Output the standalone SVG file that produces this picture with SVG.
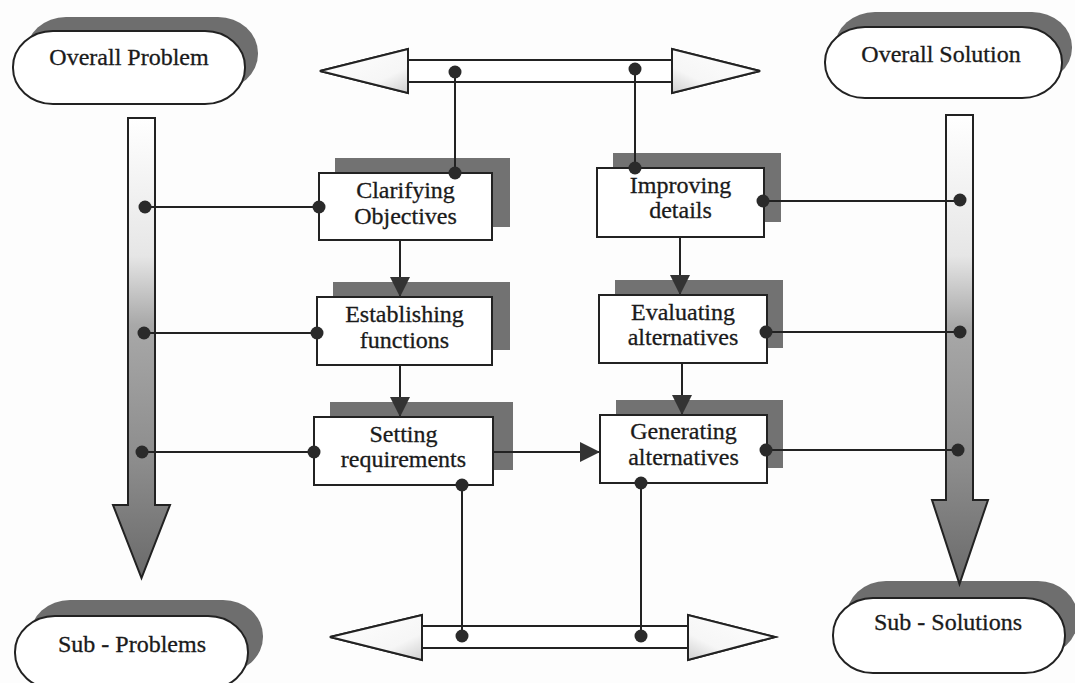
<svg xmlns="http://www.w3.org/2000/svg" width="1075" height="683" viewBox="0 0 1075 683">
<style>
  .txt{font-family:"Liberation Serif","Times New Roman",serif;font-size:24px;fill:#1a1a1a;stroke:#1a1a1a;stroke-width:0.3;text-anchor:middle}
  .pill{fill:#fff;stroke:#222;stroke-width:2}
  .pshadow{fill:#6e6e6e}
  .box{fill:#fff;stroke:#222;stroke-width:2}
  .bshadow{fill:#727272}
  .ln{stroke:#222;stroke-width:2;fill:none}
  .dot{fill:#2a2a2a}
  .outline{stroke:#222;stroke-width:2;fill:#fff}
</style>
<defs>
  <marker id="ah" viewBox="0 0 20 20" refX="20" refY="10" markerWidth="20" markerHeight="20" orient="auto" markerUnits="userSpaceOnUse">
    <path d="M0,0 L20,10 L0,20 z" fill="#333"/>
  </marker>
  <linearGradient id="vgrad" x1="0" y1="0" x2="0" y2="1">
    <stop offset="0" stop-color="#ffffff"/>
    <stop offset="0.3" stop-color="#e6e6e6"/>
    <stop offset="0.45" stop-color="#a8a8a8"/>
    <stop offset="0.75" stop-color="#8c8c8c"/>
    <stop offset="1" stop-color="#6a6a6a"/>
  </linearGradient>
  <linearGradient id="hgradL" x1="0" y1="0" x2="1" y2="1">
    <stop offset="0" stop-color="#ffffff"/>
    <stop offset="0.7" stop-color="#f6f6f6"/>
    <stop offset="1" stop-color="#cfcfcf"/>
  </linearGradient>
  <linearGradient id="hgradR" x1="1" y1="0" x2="0" y2="1">
    <stop offset="0" stop-color="#ffffff"/>
    <stop offset="0.7" stop-color="#f6f6f6"/>
    <stop offset="1" stop-color="#cfcfcf"/>
  </linearGradient>
</defs>
<rect x="0" y="0" width="1075" height="683" fill="#fdfdfd"/>

<g id="overall-problem">
  <rect class="pshadow" x="26" y="17" width="232" height="73" rx="40" ry="36"/>
  <rect class="pill" x="13" y="31" width="232" height="73" rx="40" ry="36"/>
  <text class="txt" x="129" y="65">Overall Problem</text>
</g>
<g id="overall-solution">
  <rect class="pshadow" x="835" y="12" width="237" height="71" rx="40" ry="35"/>
  <rect class="pill" x="825" y="27" width="237" height="71" rx="40" ry="35"/>
  <text class="txt" x="941" y="62">Overall Solution</text>
</g>
<g id="sub-problems">
  <rect class="pshadow" x="30" y="600" width="233" height="73" rx="40" ry="36"/>
  <rect class="pill" x="15" y="616" width="233" height="73" rx="40" ry="36"/>
  <text class="txt" x="132" y="652">Sub - Problems</text>
</g>
<g id="sub-solutions">
  <rect class="pshadow" x="846" y="581" width="232" height="75" rx="40" ry="37"/>
  <rect class="pill" x="833" y="598" width="232" height="75" rx="40" ry="37"/>
  <text class="txt" x="948" y="630">Sub - Solutions</text>
</g>

<g id="problem-arrow">
  <polygon points="128,118 155,118 155,505 170,505 141.5,578 113,505 128,505" fill="url(#vgrad)" stroke="#222" stroke-width="2"/>
</g>
<g id="solution-arrow">
  <polygon points="946,115 973,115 973,500 988,500 959.5,584 932,500 946,500" fill="url(#vgrad)" stroke="#222" stroke-width="2"/>
</g>

<g id="top-double-arrow">
  <polygon class="outline" points="320,71 408,49 408,60 672,60 672,49 760,71 672,93 672,82 408,82 408,93"/>
  <polygon points="320,71 408,49 408,93" fill="url(#hgradL)" stroke="#222" stroke-width="2"/>
  <polygon points="760,71 672,49 672,93" fill="url(#hgradR)" stroke="#222" stroke-width="2"/>
  <rect x="409" y="61" width="262" height="20" fill="#fff"/>
</g>
<g id="bottom-double-arrow">
  <polygon class="outline" points="330,637 422,615 422,626 688,626 688,615 775,637 688,660 688,648 422,648 422,660"/>
  <polygon points="330,637 422,615 422,660" fill="url(#hgradL)" stroke="#222" stroke-width="2"/>
  <polygon points="775,637 688,615 688,660" fill="url(#hgradR)" stroke="#222" stroke-width="2"/>
  <rect x="423" y="627" width="264" height="20" fill="#fff"/>
</g>

<g id="clarifying-objectives">
  <rect class="bshadow" x="335" y="158" width="175" height="69"/>
  <rect class="box" x="319" y="173" width="173" height="67"/>
  <text class="txt" x="405.5" y="198">Clarifying</text>
  <text class="txt" x="405.5" y="224">Objectives</text>
</g>
<g id="establishing-functions">
  <rect class="bshadow" x="333" y="282" width="177" height="68"/>
  <rect class="box" x="317" y="297" width="175" height="68"/>
  <text class="txt" x="404.5" y="322">Establishing</text>
  <text class="txt" x="404.5" y="348">functions</text>
</g>
<g id="setting-requirements">
  <rect class="bshadow" x="330" y="402" width="183" height="68"/>
  <rect class="box" x="314" y="417" width="179" height="68"/>
  <text class="txt" x="403.5" y="442">Setting</text>
  <text class="txt" x="403.5" y="467">requirements</text>
</g>
<g id="improving-details">
  <rect class="bshadow" x="613" y="153" width="168" height="69"/>
  <rect class="box" x="597" y="168" width="167" height="69"/>
  <text class="txt" x="680.5" y="193">Improving</text>
  <text class="txt" x="680.5" y="218">details</text>
</g>
<g id="evaluating-alternatives">
  <rect class="bshadow" x="615" y="280" width="168" height="68"/>
  <rect class="box" x="599" y="295" width="168" height="68"/>
  <text class="txt" x="683" y="320">Evaluating</text>
  <text class="txt" x="683" y="345">alternatives</text>
</g>
<g id="generating-alternatives">
  <rect class="bshadow" x="616" y="400" width="167" height="68"/>
  <rect class="box" x="600" y="415" width="167" height="68"/>
  <text class="txt" x="683.5" y="439">Generating</text>
  <text class="txt" x="683.5" y="465">alternatives</text>
</g>

<g id="connectors">
  <line class="ln" x1="455" y1="71" x2="455" y2="173"/>
  <line class="ln" x1="635" y1="69" x2="635" y2="168"/>
  <line class="ln" x1="462" y1="485" x2="462" y2="637"/>
  <line class="ln" x1="641" y1="483" x2="641" y2="637"/>
  <line class="ln" x1="400" y1="240" x2="400" y2="297" marker-end="url(#ah)"/>
  <line class="ln" x1="400" y1="365" x2="400" y2="417" marker-end="url(#ah)"/>
  <line class="ln" x1="680" y1="237" x2="680" y2="295" marker-end="url(#ah)"/>
  <line class="ln" x1="682" y1="363" x2="682" y2="415" marker-end="url(#ah)"/>
  <line class="ln" x1="493" y1="452" x2="600" y2="452" marker-end="url(#ah)"/>
  <line class="ln" x1="145" y1="207" x2="319" y2="207"/>
  <line class="ln" x1="145" y1="333" x2="317" y2="333"/>
  <line class="ln" x1="145" y1="452" x2="314" y2="452"/>
  <line class="ln" x1="764" y1="201" x2="960" y2="201"/>
  <line class="ln" x1="767" y1="332" x2="960" y2="332"/>
  <line class="ln" x1="767" y1="450" x2="960" y2="450"/>
  <circle class="dot" cx="455" cy="72" r="6.5"/>
  <circle class="dot" cx="635" cy="69" r="6.5"/>
  <circle class="dot" cx="455" cy="173" r="6.5"/>
  <circle class="dot" cx="635" cy="168" r="6.5"/>
  <circle class="dot" cx="145" cy="207" r="6.5"/>
  <circle class="dot" cx="319" cy="207" r="6.5"/>
  <circle class="dot" cx="144" cy="333" r="6.5"/>
  <circle class="dot" cx="317" cy="333" r="6.5"/>
  <circle class="dot" cx="142" cy="452" r="6.5"/>
  <circle class="dot" cx="314" cy="452" r="6.5"/>
  <circle class="dot" cx="763" cy="201" r="6.5"/>
  <circle class="dot" cx="960" cy="200" r="6.5"/>
  <circle class="dot" cx="766" cy="332" r="6.5"/>
  <circle class="dot" cx="960" cy="332" r="6.5"/>
  <circle class="dot" cx="766" cy="450" r="6.5"/>
  <circle class="dot" cx="958" cy="450" r="6.5"/>
  <circle class="dot" cx="462" cy="485" r="6.5"/>
  <circle class="dot" cx="641" cy="483" r="6.5"/>
  <circle class="dot" cx="462" cy="636" r="6.5"/>
  <circle class="dot" cx="641" cy="636" r="6.5"/>
</g>
</svg>
